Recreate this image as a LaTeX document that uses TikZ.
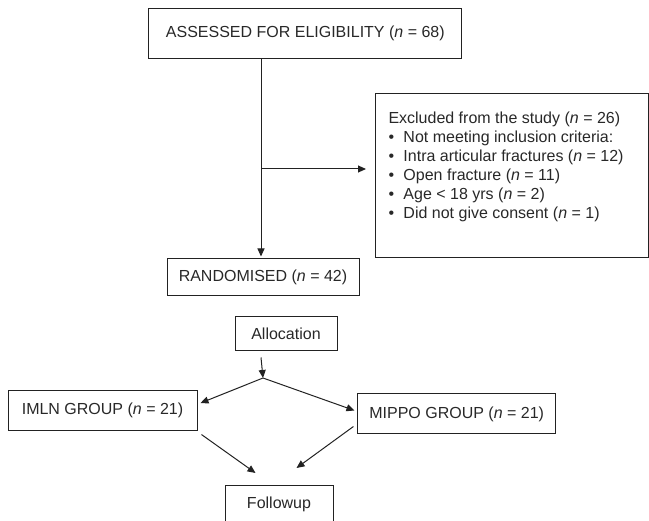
\documentclass[tikz,border=0pt]{standalone}
\usepackage{fontspec}
\setmainfont{Liberation Sans}
\usepackage{tikz}
\usetikzlibrary{arrows.meta, positioning, calc}
\usepackage{xcolor}
\definecolor{cLine}{RGB}{34,34,34}
\definecolor{cText}{RGB}{40,40,40}

\begin{document}
\begin{tikzpicture}[x=1pt, y=-1pt, font=\fontsize{16}{19}\selectfont, color=cText,
  box/.style={draw=cLine, line width=1pt, inner sep=0pt, align=center},
  arr/.style={-{Triangle[length=8pt, width=7pt]}, draw=cLine, line width=1pt}]
  \useasboundingbox (0,0) rectangle (649,521);
  \clip (0,0) rectangle (649,521);
  \node[box, minimum width=313pt, minimum height=49.5pt] (assess) at (305.3,33.5) {ASSESSED FOR ELIGIBILITY (\textit{n} = 68)};
  \node[box, anchor=north west] (excl) at (375,93) {\begin{minipage}[t][164pt][t]{273pt}
    \vspace*{18pt}\raggedright\leftskip=13pt\parindent=0pt
    Excluded from the study (\textit{n} = 26)\\
    \makebox[15pt][l]{\textbullet}Not meeting inclusion criteria:\\
    \makebox[15pt][l]{\textbullet}Intra articular fractures (\textit{n} = 12)\\
    \makebox[15pt][l]{\textbullet}Open fracture (\textit{n} = 11)\\
    \makebox[15pt][l]{\textbullet}Age < 18 yrs (\textit{n} = 2)\\
    \makebox[15pt][l]{\textbullet}Did not give consent (\textit{n} = 1)
  \end{minipage}};
  \node[box, minimum width=192pt, minimum height=37pt] (randm) at (263,277.5) {RANDOMISED (\textit{n} = 42)};
  \node[box, minimum width=102pt, minimum height=34pt] (alloc) at (286,334) {Allocation};
  \node[box, minimum width=189pt, minimum height=39.5pt] (imln) at (102.5,410.3) {IMLN GROUP (\textit{n} = 21)};
  \node[box, minimum width=197.5pt, minimum height=40pt] (mippo) at (456.7,414) {MIPPO GROUP (\textit{n} = 21)};
  \node[box, minimum width=108pt, minimum height=38pt, anchor=north] (follow) at (279,485) {Followup};
  % branch points
  \coordinate (trunk) at (261,169);
  \coordinate (split) at (263,378);
  \draw[arr] (trunk |- assess.south) -- ($(trunk |- randm.north)+(0,-2)$);
  \draw[arr] (trunk) -- ($(trunk -| excl.west)+(-9,0)$);
  \draw[arr] ($(alloc.south -| trunk)+(0,6)$) -- (split);
  \draw[arr] (split) -- ($(imln.north east)+(3,13)$);
  \draw[arr] (split) -- ($(mippo.north west)+(-3,17)$);
  \draw[arr] ($(imln.south east)+(4,4)$) -- ($(follow.north west)+(31,-12)$);
  \draw[arr] ($(mippo.south west)+(-4,-8)$) -- ($(follow.north east)+(-37,-17)$);
\end{tikzpicture}
\end{document}
